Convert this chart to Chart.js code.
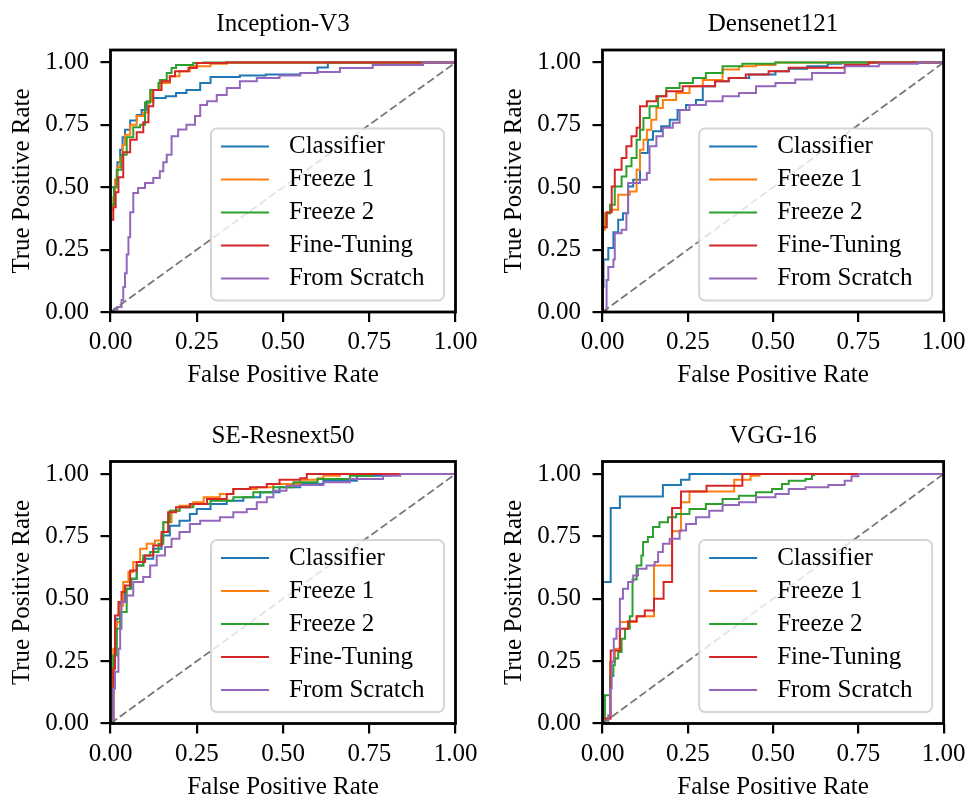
<!DOCTYPE html>
<html>
<head>
<meta charset="utf-8">
<script src="https://cdn.jsdelivr.net/npm/chart.js@4.4.1/dist/chart.umd.min.js"></script>
<style>
  body { margin: 0; background: #fff; }
  #wrap { position: relative; width: 971px; height: 798px; }
  #wrap canvas { position: absolute; left: 0; top: 0; }
</style>
</head>
<body>
<div id="wrap">
  <canvas id="roc0" width="971" height="798"></canvas>
  <canvas id="roc1" width="971" height="798"></canvas>
  <canvas id="roc2" width="971" height="798"></canvas>
  <canvas id="roc3" width="971" height="798"></canvas>
</div>
<script>
// ROC curves, [fpr, tpr] (tpr jumps at the given fpr)
const panelTitles = ['Inception-V3', 'Densenet121', 'SE-Resnext50', 'VGG-16'];
const seriesNames = ['Classifier', 'Freeze 1', 'Freeze 2', 'Fine-Tuning', 'From Scratch'];
const seriesColors = ['#1f77b4', '#ff7f0e', '#2ca02c', '#d62728', '#9467bd'];
const tickValues = [0, 0.25, 0.5, 0.75, 1];
const tickLabels = ['0.00', '0.25', '0.50', '0.75', '1.00'];
const chanceLine = [[0, 0], [1, 1]];

// Inception-V3
const incClassifier = [[0,0],[0,0.25],[0,0.5],[0.013,0.53],[0.02,0.6],[0.028,0.65],[0.035,0.7],[0.042,0.73],[0.057,0.767],[0.076,0.79],[0.09,0.81],[0.105,0.845],[0.124,0.858],[0.16,0.865],[0.19,0.878],[0.22,0.89],[0.26,0.918],[0.29,0.942],[0.375,0.948],[0.45,0.952],[0.55,0.958],[0.6,0.98],[0.63,1.0],[1,1]];
const incFreeze1 = [[0,0],[0,0.41],[0.008,0.46],[0.013,0.53],[0.02,0.58],[0.028,0.62],[0.035,0.67],[0.042,0.71],[0.057,0.75],[0.076,0.785],[0.095,0.8],[0.11,0.845],[0.12,0.89],[0.143,0.918],[0.172,0.945],[0.2,0.965],[0.23,0.985],[0.29,0.995],[0.337,1.0],[1,1]];
const incFreeze2 = [[0,0],[0,0.43],[0.01,0.5],[0.018,0.57],[0.032,0.63],[0.047,0.7],[0.066,0.74],[0.086,0.75],[0.1,0.84],[0.115,0.89],[0.139,0.918],[0.143,0.93],[0.163,0.958],[0.177,0.978],[0.19,0.99],[0.24,0.998],[0.27,1.0],[1,1]];
const incFineTuning = [[0,0],[0,0.37],[0.008,0.42],[0.015,0.48],[0.023,0.54],[0.037,0.64],[0.057,0.69],[0.076,0.72],[0.095,0.76],[0.11,0.825],[0.124,0.89],[0.148,0.925],[0.172,0.945],[0.187,0.965],[0.226,0.978],[0.25,0.998],[0.337,1.0],[1,1]];
const incScratch = [[0,0],[0.01,0.01],[0.02,0.02],[0.032,0.048],[0.037,0.1],[0.042,0.155],[0.047,0.23],[0.052,0.3],[0.057,0.4],[0.066,0.477],[0.08,0.497],[0.1,0.517],[0.124,0.537],[0.143,0.564],[0.153,0.6],[0.163,0.63],[0.177,0.704],[0.196,0.731],[0.22,0.75],[0.245,0.785],[0.26,0.83],[0.28,0.845],[0.308,0.87],[0.337,0.898],[0.375,0.925],[0.424,0.938],[0.49,0.948],[0.55,0.958],[0.6,0.962],[0.665,0.978],[0.76,0.99],[0.906,1.0],[1,1]];

// Densenet121
const denClassifier = [[0,0],[0,0.1],[0.003,0.21],[0.017,0.256],[0.032,0.32],[0.046,0.37],[0.06,0.396],[0.075,0.503],[0.09,0.53],[0.11,0.637],[0.133,0.69],[0.148,0.724],[0.172,0.744],[0.197,0.77],[0.22,0.81],[0.245,0.83],[0.274,0.85],[0.294,0.905],[0.33,0.925],[0.37,0.938],[0.43,0.952],[0.507,0.965],[0.546,0.975],[0.6,0.985],[0.66,0.995],[0.7,1.0],[1,1]];
const denFreeze1 = [[0,0],[0,0.33],[0.007,0.396],[0.022,0.41],[0.046,0.47],[0.08,0.483],[0.1,0.57],[0.11,0.65],[0.12,0.69],[0.13,0.73],[0.143,0.77],[0.158,0.818],[0.177,0.85],[0.216,0.878],[0.255,0.905],[0.294,0.93],[0.352,0.972],[0.4,0.985],[0.45,0.99],[0.507,1.0],[1,1]];
const denFreeze2 = [[0,0],[0,0.34],[0.012,0.396],[0.022,0.43],[0.036,0.503],[0.056,0.543],[0.07,0.584],[0.085,0.617],[0.1,0.69],[0.11,0.73],[0.12,0.777],[0.138,0.825],[0.163,0.865],[0.187,0.898],[0.226,0.918],[0.265,0.938],[0.303,0.958],[0.352,0.985],[0.41,0.995],[0.507,1.0],[1,1]];
const denFineTuning = [[0,0],[0,0.34],[0.012,0.4],[0.027,0.503],[0.036,0.57],[0.056,0.617],[0.07,0.664],[0.085,0.704],[0.1,0.738],[0.11,0.825],[0.13,0.845],[0.158,0.865],[0.187,0.885],[0.235,0.905],[0.33,0.925],[0.37,0.938],[0.42,0.952],[0.487,0.965],[0.546,0.979],[0.71,0.99],[0.78,1.0],[1,1]];
const denScratch = [[0,0],[0.003,0.008],[0.012,0.128],[0.017,0.18],[0.032,0.21],[0.036,0.316],[0.056,0.33],[0.07,0.396],[0.075,0.517],[0.11,0.53],[0.13,0.557],[0.138,0.664],[0.158,0.704],[0.177,0.738],[0.206,0.758],[0.226,0.81],[0.255,0.83],[0.303,0.845],[0.352,0.865],[0.4,0.878],[0.45,0.905],[0.507,0.918],[0.565,0.932],[0.614,0.958],[0.71,0.985],[0.81,0.995],[0.924,1.0],[1,1]];

// SE-Resnext50
const seClassifier = [[0,0],[0.008,0.22],[0.013,0.327],[0.018,0.42],[0.028,0.487],[0.042,0.54],[0.057,0.58],[0.076,0.633],[0.095,0.66],[0.124,0.7],[0.148,0.753],[0.172,0.793],[0.2,0.813],[0.23,0.84],[0.25,0.86],[0.29,0.88],[0.337,0.893],[0.385,0.907],[0.434,0.927],[0.49,0.947],[0.55,0.96],[0.617,0.973],[0.714,0.993],[0.81,1.0],[1,1]];
const seFreeze1 = [[0,0],[0.008,0.3],[0.018,0.407],[0.028,0.473],[0.037,0.567],[0.052,0.607],[0.066,0.647],[0.086,0.7],[0.105,0.72],[0.129,0.733],[0.153,0.807],[0.177,0.853],[0.2,0.873],[0.24,0.887],[0.27,0.907],[0.317,0.92],[0.356,0.94],[0.424,0.947],[0.472,0.96],[0.55,0.977],[0.6,0.983],[0.617,0.993],[0.665,1.0],[1,1]];
const seFreeze2 = [[0,0],[0.008,0.273],[0.018,0.38],[0.028,0.447],[0.047,0.54],[0.061,0.58],[0.076,0.633],[0.095,0.673],[0.115,0.687],[0.139,0.72],[0.153,0.807],[0.172,0.853],[0.2,0.867],[0.24,0.88],[0.29,0.893],[0.356,0.907],[0.414,0.927],[0.472,0.947],[0.53,0.967],[0.6,0.98],[0.694,0.993],[0.76,1.0],[1,1]];
const seFineTuning = [[0,0],[0.008,0.22],[0.013,0.433],[0.023,0.487],[0.032,0.527],[0.042,0.553],[0.057,0.613],[0.076,0.647],[0.1,0.673],[0.124,0.713],[0.148,0.767],[0.167,0.847],[0.19,0.867],[0.23,0.88],[0.28,0.9],[0.337,0.92],[0.356,0.94],[0.404,0.947],[0.453,0.96],[0.49,0.977],[0.55,0.983],[0.569,1.0],[1,1]];
const seScratch = [[0,0],[0.008,0.14],[0.013,0.207],[0.023,0.3],[0.028,0.38],[0.032,0.487],[0.047,0.513],[0.066,0.567],[0.095,0.587],[0.115,0.633],[0.134,0.673],[0.158,0.707],[0.177,0.74],[0.2,0.767],[0.23,0.8],[0.26,0.813],[0.317,0.827],[0.356,0.847],[0.395,0.86],[0.424,0.887],[0.453,0.907],[0.472,0.933],[0.51,0.953],[0.55,0.956],[0.617,0.967],[0.694,0.98],[0.79,0.993],[0.84,1.0],[1,1]];

// VGG-16
const vggClassifier = [[0,0],[0,0.567],[0.024,0.864],[0.051,0.91],[0.177,0.956],[0.23,0.977],[0.255,1.0],[1,1]];
const vggFreeze1 = [[0,0],[0,0.02],[0.022,0.247],[0.037,0.3],[0.051,0.407],[0.1,0.43],[0.151,0.633],[0.204,0.77],[0.23,0.887],[0.255,0.93],[0.386,0.977],[0.434,0.993],[0.46,1.0],[1,1]];
const vggFreeze2 = [[0,0],[0.007,0.113],[0.022,0.19],[0.032,0.233],[0.036,0.26],[0.046,0.287],[0.056,0.34],[0.066,0.38],[0.08,0.43],[0.088,0.577],[0.1,0.633],[0.114,0.673],[0.119,0.727],[0.133,0.747],[0.148,0.787],[0.167,0.807],[0.192,0.827],[0.216,0.84],[0.255,0.86],[0.303,0.88],[0.352,0.9],[0.4,0.913],[0.45,0.927],[0.497,0.94],[0.526,0.96],[0.546,0.973],[0.595,0.98],[0.614,0.996],[0.62,1.0],[1,1]];
const vggFineTuning = [[0,0],[0,0.02],[0.024,0.293],[0.051,0.38],[0.075,0.41],[0.1,0.43],[0.124,0.453],[0.151,0.5],[0.179,0.567],[0.204,0.864],[0.23,0.93],[0.305,0.953],[0.41,1.0],[1,1]];
const vggScratch = [[0,0],[0.017,0.033],[0.022,0.14],[0.027,0.247],[0.033,0.34],[0.041,0.38],[0.051,0.5],[0.06,0.54],[0.075,0.567],[0.09,0.593],[0.104,0.62],[0.129,0.633],[0.153,0.647],[0.163,0.687],[0.177,0.72],[0.197,0.74],[0.226,0.773],[0.245,0.8],[0.274,0.827],[0.313,0.853],[0.352,0.876],[0.4,0.887],[0.45,0.907],[0.507,0.92],[0.546,0.94],[0.595,0.947],[0.662,0.956],[0.71,0.973],[0.73,0.991],[0.75,1.0],[1,1]];

const panelCurves = [
  [incClassifier, incFreeze1, incFreeze2, incFineTuning, incScratch],
  [denClassifier, denFreeze1, denFreeze2, denFineTuning, denScratch],
  [seClassifier, seFreeze1, seFreeze2, seFineTuning, seScratch],
  [vggClassifier, vggFreeze1, vggFreeze2, vggFineTuning, vggScratch]
];

// where each plot box sits on the page
const plotBoxes = [
  { left: 110.5, top: 50, right: 455.5, bottom: 312 },
  { left: 602.5, top: 50, right: 946, bottom: 312 },
  { left: 110.5, top: 461.5, right: 455.5, bottom: 723.5 },
  { left: 602.5, top: 461.5, right: 946, bottom: 723.5 }
];

const FONT = '"Liberation Serif", "Times New Roman", serif';
const FS = 25;
Chart.defaults.font.family = FONT;
Chart.defaults.font.size = FS;
Chart.defaults.color = '#000';

const frame = {
  id: 'frame',
  afterDraw(chart) {
    const { ctx, chartArea: a } = chart;
    ctx.save();
    ctx.strokeStyle = '#000';
    ctx.lineWidth = 2.8;
    ctx.strokeRect(a.left, a.top, a.right - a.left, a.bottom - a.top);
    ctx.restore();
  }
};

const insideLegend = {
  id: 'insideLegend',
  afterDatasetsDraw(chart) {
    const { ctx, chartArea: a } = chart;
    const w = 233, h = 172;
    const x = a.right - 11.5 - w, y = a.bottom - 11.5 - h;
    ctx.save();
    ctx.beginPath();
    ctx.roundRect(x, y, w, h, 6);
    ctx.fillStyle = 'rgba(255,255,255,0.8)';
    ctx.fill();
    ctx.strokeStyle = 'rgba(204,204,204,0.8)';
    ctx.lineWidth = 2;
    ctx.stroke();
    ctx.font = FS + 'px ' + FONT;
    ctx.textBaseline = 'middle';
    let row = 0;
    chart.data.datasets.forEach(ds => {
      if (!ds.label) return;
      const ry = y + 18 + row * 33;
      ctx.strokeStyle = ds.borderColor;
      ctx.lineWidth = ds.borderWidth;
      ctx.beginPath();
      ctx.moveTo(x + 10, ry);
      ctx.lineTo(x + 58, ry);
      ctx.stroke();
      ctx.fillStyle = '#000';
      ctx.fillText(ds.label, x + 78, ry);
      row++;
    });
    ctx.restore();
  }
};

const toXY = pts => pts.map(p => ({ x: p[0], y: p[1] }));

panelTitles.forEach((title, k) => {
  const box = plotBoxes[k];
  const datasets = panelCurves[k].map((curve, i) => ({
    label: seriesNames[i],
    data: toXY(curve),
    borderColor: seriesColors[i],
    borderWidth: 2,
    stepped: 'before',
    pointRadius: 0,
    fill: false,
    order: 6 - i
  }));
  datasets.push({
    label: '',
    data: toXY(chanceLine),
    borderColor: '#777777',
    borderWidth: 1.8,
    borderDash: [8, 3.5],
    pointRadius: 0,
    fill: false,
    order: 0
  });

  const tickOpts = {
    padding: 0,
    callback: (v, i) => tickLabels[i]
  };
  const gridOpts = { drawOnChartArea: false, drawTicks: true, tickLength: 10, color: '#000', lineWidth: 2.2 };

  new Chart(document.getElementById('roc' + k), {
    type: 'line',
    data: { datasets },
    options: {
      responsive: false,
      animation: false,
      events: [],
      layout: {
        padding: {
          left: box.left - 110,
          top: box.top - 40.5,
          right: 971 - box.right,
          bottom: 798 - box.bottom - 74.5
        }
      },
      plugins: {
        legend: { display: false },
        tooltip: { enabled: false },
        title: {
          display: true,
          fullSize: false,
          text: title,
          font: { size: FS, weight: 'normal', lineHeight: 1.2 },
          padding: { top: 0, bottom: 10.5 }
        }
      },
      scales: {
        x: {
          type: 'linear',
          min: 0,
          max: 1,
          afterBuildTicks: s => { s.ticks = tickValues.map(v => ({ value: v })); },
          afterFit: s => { s.height = 74.5; },
          ticks: { ...tickOpts, padding: 5.5, maxRotation: 0 },
          grid: gridOpts,
          border: { display: false },
          title: { display: true, text: 'False Positive Rate', font: { size: FS, lineHeight: 1 }, padding: { top: 0, bottom: -1.5 } }
        },
        y: {
          type: 'linear',
          min: 0,
          max: 1.05,
          afterBuildTicks: s => { s.ticks = tickValues.map(v => ({ value: v })); },
          afterFit: s => { s.width = 110; },
          ticks: { ...tickOpts, padding: 11.5 },
          grid: gridOpts,
          border: { display: false },
          title: { display: true, text: 'True Positive Rate', font: { size: FS, lineHeight: 1 }, padding: { top: 9, bottom: 0 } }
        }
      }
    },
    plugins: [insideLegend, frame]
  });
});
</script>
</body>
</html>
